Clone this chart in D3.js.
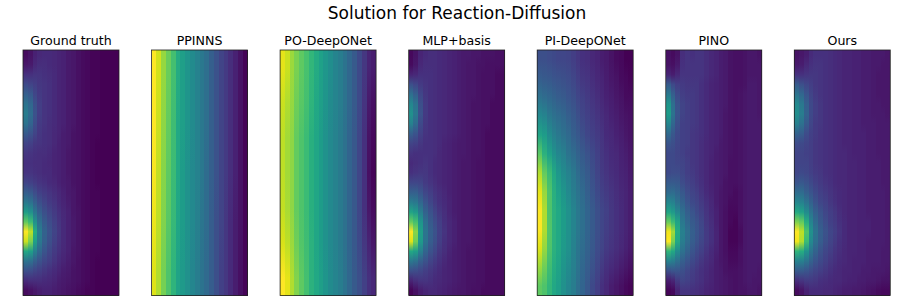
<!DOCTYPE html>
<html>
<head>
<meta charset="utf-8">
<script src="https://cdn.jsdelivr.net/npm/d3@7"></script>
<style>
    html, body { margin: 0; padding: 0; background: white; overflow: hidden; }
    text { font-family: "DejaVu Sans", sans-serif; fill: black; }
</style>
</head>
<body>
<div id="chart"></div>
<script>
'use strict';
// Values, 0 = darkest purple, 100 = brightest yellow
// Each row is one height in the panel, top to bottom, each entry one column left to right
const groundTruth = [
    [3,5,9,11,12,12,11,10,9,7,6,4,3,2,1,1,0,0,0,0],
    [6,7,11,13,13,12,11,10,9,7,6,4,3,2,1,1,0,0,0,0],
    [14,14,15,15,14,13,12,10,9,7,6,4,3,2,1,1,0,0,0,0],
    [22,20,18,16,15,14,12,10,9,7,6,4,3,2,1,1,0,0,0,0],
    [30,27,21,17,15,14,12,10,9,7,6,4,3,2,1,1,0,0,0,0],
    [38,33,24,18,15,14,12,10,9,7,6,4,3,2,1,1,0,0,0,0],
    [42,35,25,18,15,14,12,10,9,7,6,4,3,2,1,1,0,0,0,0],
    [38,32,23,17,15,13,12,10,9,7,6,4,3,2,1,1,0,0,0,0],
    [28,25,20,16,14,13,11,10,8,7,5,4,3,2,1,1,0,0,0,0],
    [20,19,16,15,14,13,11,9,8,7,5,4,3,2,1,0,0,0,0,0],
    [16,15,14,13,13,12,10,9,8,6,5,4,3,2,1,0,0,0,0,0],
    [14,14,13,13,12,11,10,9,8,6,5,4,3,2,1,0,0,0,0,0],
    [15,15,14,13,12,12,10,9,8,6,5,4,3,2,1,0,0,0,0,0],
    [20,19,17,15,14,12,11,9,8,7,5,4,3,2,1,0,0,0,0,0],
    [29,27,23,19,17,15,13,11,9,7,6,4,3,2,1,1,0,0,0,0],
    [40,37,30,24,20,17,15,12,10,8,6,4,3,2,1,1,0,0,0,0],
    [55,50,39,30,24,20,17,14,11,9,6,5,3,2,1,1,0,0,0,0],
    [75,68,50,36,28,23,19,15,12,9,7,5,3,2,1,1,0,0,0,0],
    [100,90,62,42,31,25,20,16,12,9,7,5,3,2,1,1,0,0,0,0],
    [92,80,56,40,30,24,19,15,12,9,7,5,3,2,1,1,0,0,0,0],
    [60,56,43,33,26,21,17,14,11,9,6,5,3,2,1,1,0,0,0,0],
    [38,36,30,25,21,18,15,12,10,8,6,4,3,2,1,0,0,0,0,0],
    [24,23,20,18,16,14,12,10,8,7,5,4,3,2,1,0,0,0,0,0],
    [12,13,13,13,12,11,10,8,7,6,5,4,3,2,1,0,0,0,0,0],
    [3,4,6,8,9,9,8,7,6,5,4,3,2,1,1,0,0,0,0,0]
]
const ppinns = [
    [100,93,84,77,70,61,56,52,48,44,40,36,30,25,20,17,13,9,5,1],
    [100,92,83,76,69,60,56,52,48,44,40,36,30,25,20,17,13,9,5,1],
    [99,91,82,75,68,60,55,51,47,44,40,35,30,25,20,17,13,9,5,1],
    [97,90,81,74,67,59,55,51,47,43,39,35,29,24,20,16,12,8,5,1],
    [95,88,79,72,65,58,54,50,46,42,38,34,29,24,19,16,12,8,4,1]
]
const poDeepONet = [
    [96,92,85,80,75,71,66,61,57,53,49,45,42,38,33,28,22,16,10,8],
    [92,88,84,78,74,70,65,60,56,52,48,45,42,38,33,28,22,15,7,4],
    [90,86,83,76,72,68,63,59,55,51,47,44,41,37,32,27,21,14,5,2],
    [90,86,83,76,72,68,63,59,55,51,47,44,41,37,32,27,21,14,4,1],
    [91,87,83,76,72,68,63,59,55,51,47,44,41,37,32,27,21,14,6,3],
    [94,90,85,78,73,69,64,59,55,51,47,44,41,37,32,27,22,16,10,6],
    [100,96,88,81,75,70,64,60,56,52,48,45,42,38,33,28,24,19,14,11]
]
const mlpBasis = [
    [2,5,10,12,13,13,12,11,10,9,8,7,7,6,6,5,5,5,4,4],
    [3,6,11,13,13,13,12,11,10,9,8,7,6,6,5,5,4,4,4,4],
    [10,11,14,14,14,13,12,11,10,9,8,7,6,6,5,4,4,4,3,3],
    [24,21,17,15,14,13,12,11,10,9,8,7,6,6,5,4,4,4,3,3],
    [36,30,21,16,14,13,12,11,10,9,8,7,6,6,5,4,4,4,3,3],
    [46,38,24,17,14,13,12,11,10,9,8,7,6,5,5,4,4,3,3,3],
    [50,40,25,17,14,13,12,11,10,9,8,7,6,5,5,4,4,3,3,3],
    [44,35,22,16,14,13,12,11,10,9,8,7,6,5,5,4,4,3,3,3],
    [30,26,19,15,14,13,12,11,10,9,8,7,6,5,5,4,3,3,3,3],
    [20,19,16,14,14,13,12,10,9,8,7,7,6,5,5,4,3,3,3,3],
    [15,14,14,14,14,13,11,10,9,8,7,7,6,5,5,4,3,3,3,3],
    [12,13,14,15,14,12,11,10,9,8,7,6,6,5,4,4,3,3,3,3],
    [14,15,16,16,14,12,11,10,9,8,7,6,6,5,4,4,3,3,3,3],
    [21,21,20,17,15,13,11,10,9,8,7,6,6,5,4,4,3,3,3,3],
    [30,30,26,21,18,15,13,11,9,8,7,6,6,5,4,4,3,3,3,3],
    [42,40,33,26,21,17,14,12,10,8,7,6,6,5,4,4,3,3,3,3],
    [58,54,42,31,25,20,16,13,10,8,7,6,6,5,4,4,3,3,3,3],
    [76,70,52,36,28,23,18,14,11,9,7,6,6,5,4,4,3,3,3,3],
    [100,82,56,39,30,25,19,15,11,9,7,6,6,5,4,4,3,3,3,3],
    [95,78,54,38,29,24,18,14,11,9,7,6,6,5,4,4,3,3,3,3],
    [60,56,43,32,25,21,16,13,10,8,7,6,5,5,4,4,3,3,3,3],
    [40,37,30,25,20,17,14,11,9,8,7,6,5,5,4,4,3,3,3,3],
    [24,23,21,18,16,14,12,10,9,8,7,6,5,5,4,4,3,3,3,3],
    [10,13,15,15,14,12,11,10,9,8,7,6,5,5,4,4,3,3,3,3],
    [1,4,8,10,11,11,10,9,8,7,6,6,5,4,4,3,3,3,3,3]
]
const piDeepONet = [
    [24,24,23,22,21,21,20,18,16,14,13,11,10,8,7,5,3,2,0,0],
    [29,28,27,26,25,24,23,21,18,16,15,13,11,10,8,6,5,3,2,1],
    [37,35,33,31,29,28,26,24,21,19,17,15,13,11,9,8,6,5,3,3],
    [47,45,40,37,35,33,30,27,24,21,19,17,15,13,11,9,8,6,5,4],
    [58,55,48,43,40,37,34,30,27,24,21,19,17,15,12,11,9,8,6,5],
    [74,64,57,51,46,43,38,35,31,28,25,22,19,16,14,12,11,9,8,6],
    [88,76,68,60,53,48,44,40,35,31,28,24,20,17,15,13,12,10,9,7],
    [96,84,72,63,57,52,47,42,38,34,30,26,22,19,17,15,13,11,10,8],
    [100,88,72,64,60,55,50,45,40,36,32,28,24,21,19,16,14,12,10,8],
    [100,88,73,64,60,55,50,45,40,36,32,28,24,21,18,16,14,12,10,8],
    [95,84,72,64,60,54,50,44,39,35,31,27,23,20,17,15,13,11,9,7],
    [85,78,69,62,58,52,48,43,38,33,29,25,21,17,14,12,10,8,6,4],
    [75,72,66,60,56,50,46,42,36,32,27,22,18,14,11,8,6,4,2,1]
]
const pino = [
    [4,3,5,13,15,14,15,15,13,11,10,8,7,5,4,4,5,6,6,5],
    [5,4,7,14,15,15,15,15,13,11,10,8,7,5,4,4,5,6,6,6],
    [10,8,11,15,15,15,15,15,13,11,10,8,7,5,4,4,5,6,6,6],
    [28,22,18,17,16,16,16,14,12,10,9,8,7,5,4,4,5,7,7,6],
    [40,30,22,18,17,17,16,14,12,10,9,8,7,5,4,5,6,7,7,6],
    [52,36,25,20,18,17,16,14,12,10,9,8,7,5,4,5,6,7,7,6],
    [55,38,26,20,18,17,16,14,12,10,9,8,6,5,4,5,6,7,7,6],
    [46,33,24,19,18,17,16,14,12,10,9,8,6,5,4,5,6,7,7,7],
    [34,27,22,19,18,16,15,14,12,10,9,8,6,5,4,5,6,7,7,7],
    [26,24,21,19,18,16,15,13,11,10,9,7,6,5,4,5,6,7,7,7],
    [22,22,20,19,17,16,15,13,11,10,8,7,6,5,4,5,6,7,7,7],
    [22,22,21,20,18,16,15,13,11,9,8,7,6,4,4,5,6,7,7,7],
    [22,23,23,21,18,17,15,13,11,9,8,7,6,4,4,5,6,7,7,7],
    [28,28,27,23,20,18,16,14,11,9,8,7,5,4,4,5,6,7,7,7],
    [34,35,32,27,23,20,18,15,12,10,8,6,5,4,3,4,6,7,7,7],
    [46,44,37,31,26,22,20,17,14,11,8,6,5,3,3,4,6,7,7,7],
    [58,54,46,36,30,26,22,19,15,12,9,6,4,2,2,4,6,7,7,7],
    [76,68,58,40,33,28,25,21,16,13,9,6,4,2,1,4,6,7,7,7],
    [98,86,62,43,36,30,26,22,17,14,10,6,4,1,1,3,6,7,7,7],
    [100,80,60,42,35,29,25,21,17,14,10,6,4,1,1,3,6,7,7,7],
    [65,60,48,37,31,26,22,19,15,12,9,6,4,2,2,4,6,7,7,7],
    [44,42,36,30,26,22,19,16,13,11,8,6,5,3,3,4,6,7,7,7],
    [24,26,26,24,21,18,16,14,12,10,8,7,5,4,4,5,6,7,7,6],
    [8,10,17,20,19,17,15,14,11,10,8,7,6,5,4,5,6,7,6,6],
    [1,2,10,15,15,14,13,12,10,9,8,7,6,5,4,5,5,6,6,5]
]
const ours = [
    [5,6,8,12,14,14,14,13,12,11,10,10,9,9,8,8,7,7,7,6],
    [7,8,11,14,15,15,14,13,12,11,10,10,9,9,8,8,7,7,6,6],
    [14,14,15,16,16,15,14,13,12,11,10,10,9,9,8,8,7,6,6,6],
    [28,24,21,18,16,15,14,13,12,11,10,10,9,9,8,8,7,6,6,6],
    [38,33,26,20,17,15,14,13,12,11,10,10,9,9,8,8,7,6,6,6],
    [47,40,30,22,18,16,14,13,12,11,10,10,9,9,8,8,7,7,6,6],
    [49,42,31,22,18,16,14,13,12,11,10,10,9,9,8,8,7,7,7,6],
    [43,37,28,21,17,16,14,13,12,11,10,10,9,9,8,8,8,7,7,7],
    [31,29,23,19,17,15,14,13,12,11,10,10,9,9,9,8,8,7,7,7],
    [23,22,20,18,16,15,14,13,12,11,10,10,9,9,9,8,8,7,7,7],
    [20,20,19,18,16,15,14,13,12,11,11,10,9,9,9,8,8,7,7,7],
    [20,20,20,18,16,15,14,13,12,11,11,10,10,9,9,8,8,8,7,7],
    [21,22,21,19,17,16,14,13,12,11,11,10,10,9,9,8,8,8,7,7],
    [26,27,25,22,19,17,15,14,12,11,11,10,10,9,9,8,8,8,7,7],
    [35,35,30,26,22,19,17,15,13,12,11,10,10,9,9,8,8,8,8,7],
    [46,44,38,31,25,21,19,16,14,12,11,10,10,9,9,8,8,8,8,7],
    [60,57,48,38,30,25,21,18,16,13,11,10,10,9,9,8,8,8,8,7],
    [80,76,62,45,34,27,23,19,17,14,12,10,10,9,9,9,8,8,8,7],
    [100,90,72,50,38,30,25,21,18,15,12,10,10,9,9,9,8,8,8,7],
    [98,88,68,47,36,29,24,20,17,14,12,10,10,9,9,8,8,8,8,7],
    [65,62,51,39,31,25,21,18,15,13,11,10,10,9,9,8,8,8,7,7],
    [44,43,38,31,26,22,19,16,14,12,11,10,9,9,9,8,8,8,7,7],
    [28,28,26,23,20,18,16,14,12,11,10,10,9,9,8,8,7,7,7,6],
    [13,15,17,17,16,14,13,12,11,11,10,9,9,8,8,7,7,6,5,5],
    [3,5,9,12,12,12,11,11,10,9,8,8,7,7,6,5,4,3,2,2]
]
const chartTitle = 'Solution for Reaction-Diffusion'
const panelTitles = ['Ground truth', 'PPINNS', 'PO-DeepONet', 'MLP+basis', 'PI-DeepONet', 'PINO', 'Ours']
const panelData = [groundTruth, ppinns, poDeepONet, mlpBasis, piDeepONet, pino, ours]

// D3 Globals
const width = 914
const height = 305
const panelTop = 50
const panelBottom = 295.5
const panelX = d3.scaleBand().domain(panelTitles).range([23, 890.3]).paddingInner(0.2532)
const color = d3.scaleSequential(d3.interpolateViridis).domain([0, 100])
const svg = d3.select('#chart')
    .append('svg')
    .attr('width', width)
    .attr('height', height)
const defs = svg.append('defs')

// Suptitle
svg.append('text')
    .attr('x', 457)
    .attr('y', 19)
    .attr('text-anchor', 'middle')
    .style('font-size', '17px')
    .text(chartTitle)

panelTitles.forEach((title, p) => {
    const rows = panelData[p]
    const x = d3.scaleBand().domain(d3.range(rows[0].length)).range([0, panelX.bandwidth()])
    const rowPos = d3.scalePoint().domain(d3.range(rows.length)).range([0, 100]).padding(0.5)
    const g = svg.append('g').attr('transform', `translate(${panelX(title)},${panelTop})`)

    // One rect per column, colours run down it from the row values
    x.domain().forEach(c => {
        const id = `grad-${p}-${c}`
        defs.append('linearGradient')
            .attr('id', id)
            .attr('x1', 0).attr('y1', 0).attr('x2', 0).attr('y2', 1)
            .selectAll('stop')
            .data(rows.map(r => r[c]))
            .join('stop')
            .attr('offset', (d, i) => `${rowPos(i)}%`)
            .attr('stop-color', d => color(d))
        g.append('rect')
            .attr('x', x(c))
            .attr('y', 0)
            .attr('width', x.bandwidth())
            .attr('height', panelBottom - panelTop)
            .attr('fill', `url(#${id})`)
            .attr('shape-rendering', 'crispEdges')
    })

    // Frame
    g.append('rect')
        .attr('width', panelX.bandwidth())
        .attr('height', panelBottom - panelTop)
        .attr('fill', 'none')
        .attr('stroke', '#222')
        .attr('stroke-width', 0.8)

    // Panel title
    g.append('text')
        .attr('x', panelX.bandwidth() / 2)
        .attr('y', -5.5)
        .attr('text-anchor', 'middle')
        .style('font-size', '12.6px')
        .text(title)
})
</script>
</body>
</html>
